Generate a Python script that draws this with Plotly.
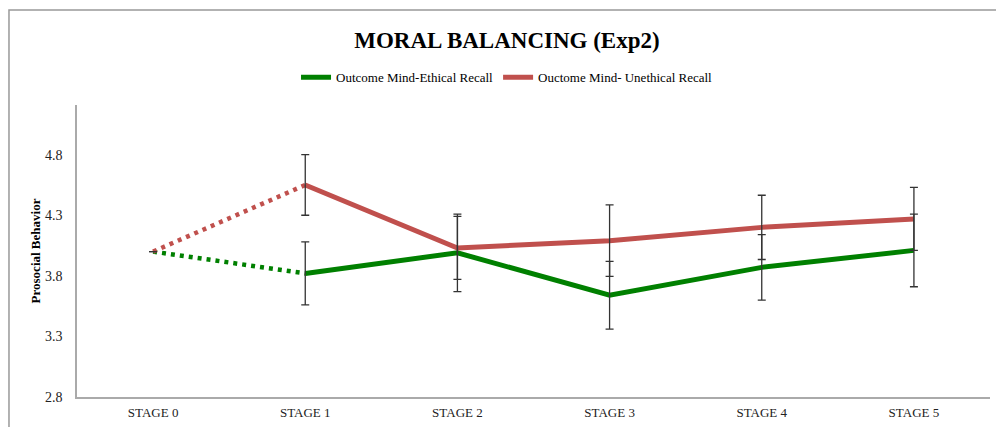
import plotly.graph_objects as go

stages = ["STAGE 0", "STAGE 1", "STAGE 2", "STAGE 3", "STAGE 4", "STAGE 5"]
ethical = [4.0, 3.82, 3.99, 3.64, 3.87, 4.01]
ethical_err = [0, 0.26, 0.32, 0.28, 0.27, 0.30]
unethical = [4.0, 4.55, 4.03, 4.09, 4.20, 4.27]
unethical_err = [0, 0.25, 0.26, 0.295, 0.265, 0.26]
y_ticks = [2.8, 3.3, 3.8, 4.3, 4.8]

GREEN = "rgb(0,128,0)"
RED = "rgb(192,80,77)"
FONT = "Liberation Serif, Times New Roman, serif"

series = [
    ("Outcome Mind-Ethical Recall", ethical, ethical_err, GREEN),
    ("Ouctome Mind- Unethical Recall", unethical, unethical_err, RED),
]

fig = go.Figure()

for name, vals, errs, color in series:
    # dotted lead-in from the baseline stage
    fig.add_trace(go.Scatter(
        x=stages[:2], y=vals[:2], mode="lines",
        line=dict(color=color, width=4.5, dash="4px,5px"),
        showlegend=False, hoverinfo="skip",
    ))
    fig.add_trace(go.Scatter(
        x=stages[1:], y=vals[1:], mode="lines", name=name,
        line=dict(color=color, width=5),
    ))

for name, vals, errs, color in series:
    fig.add_trace(go.Scatter(
        x=stages, y=vals, mode="markers",
        marker=dict(size=1, opacity=0),
        error_y=dict(type="data", array=errs, visible=True,
                     color="#333", thickness=1.3, width=4),
        showlegend=False, hoverinfo="skip",
    ))

fig.update_layout(
    width=996, height=427,
    paper_bgcolor="white", plot_bgcolor="white",
    margin=dict(l=77, r=6, t=105, b=30),
    font=dict(family=FONT, color="#222"),
    title=dict(text="<b>MORAL BALANCING (Exp2)</b>", x=0.509, xref="container",
               y=1 - 40 / 427, yref="container", xanchor="center", yanchor="middle",
               font=dict(family=FONT, size=23, color="black")),
    legend=dict(orientation="h", x=0.471, xanchor="center", y=1.095, yanchor="middle",
                font=dict(family=FONT, size=13, color="black"),
                itemwidth=30, bgcolor="rgba(0,0,0,0)"),
    shapes=[dict(type="rect", xref="paper", yref="paper",
                 x0=-0.0745, x1=1.2, y0=-0.3, y1=1.325,
                 line=dict(color="#999", width=1.5), layer="below")],
)

fig.update_xaxes(
    range=[-0.5, 5.5], automargin=False,
    showline=True, linecolor="#aaa", linewidth=1.5, showgrid=False,
    tickfont=dict(family=FONT, size=13, color="#222"),
    ticks="", ticklabelstandoff=3,
)
fig.update_yaxes(
    range=[2.8, 5.21], tickvals=y_ticks, ticktext=[f"{v:.1f}" for v in y_ticks],
    automargin=False,
    showline=True, linecolor="#aaa", linewidth=1.5, showgrid=False, zeroline=False,
    tickfont=dict(family=FONT, size=14, color="#222"), ticklabelstandoff=10,
    title=dict(text="<b>Prosocial Behavior</b>", font=dict(family=FONT, size=13, color="black"),
               standoff=1),
)

fig.write_html("out.html", config={"displayModeBar": False},
               post_script="document.body.style.margin='0';")
